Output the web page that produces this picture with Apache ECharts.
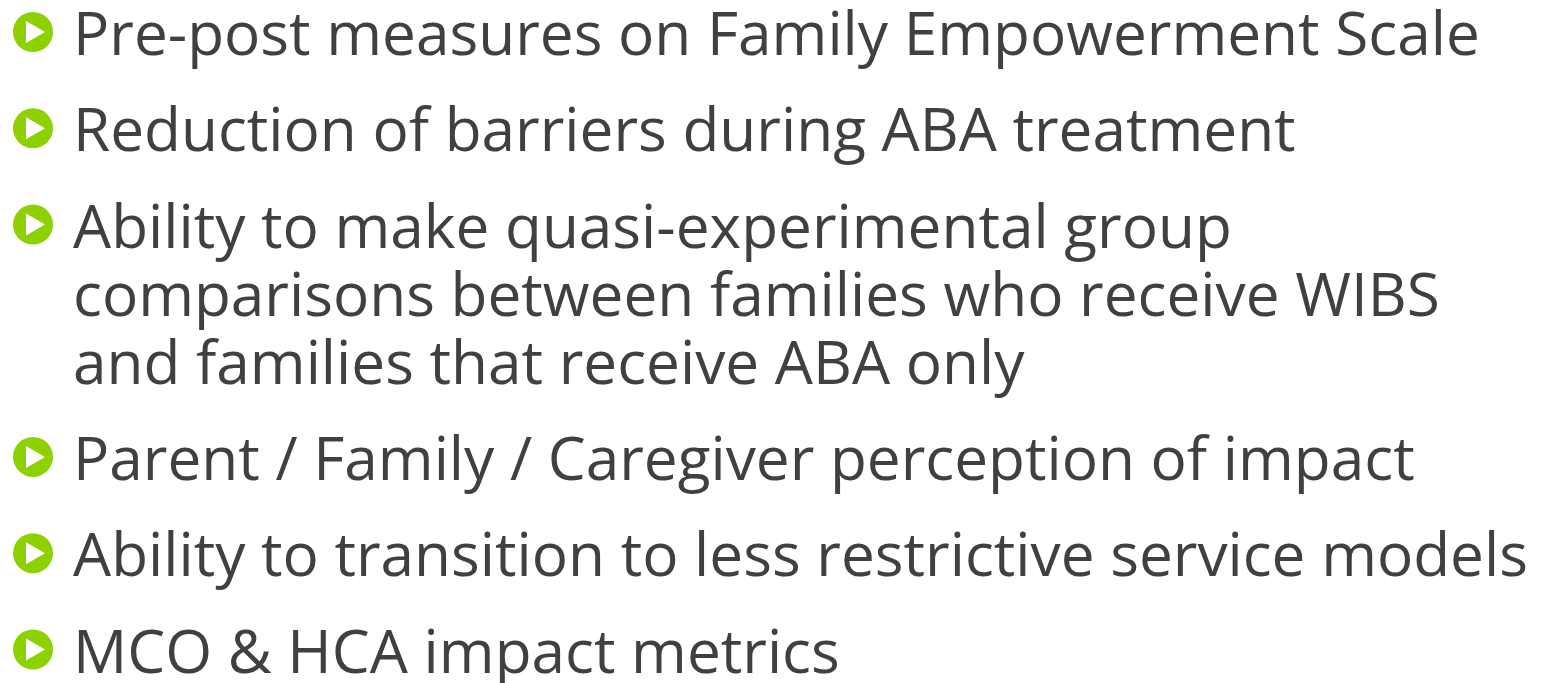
<!DOCTYPE html>
<html>
<head>
<meta charset="utf-8">
<script src="https://cdn.jsdelivr.net/npm/echarts@6/dist/echarts.min.js"></script>
<style>
html,body{margin:0;padding:0;background:#fff;}
#main{width:1546px;height:683px;}
</style>
</head>
<body>
<div id="main"></div>
<script>
// Bullet items (each inner array = wrapped lines of one bullet)
const bulletItems = [
  ["Pre-post measures on Family Empowerment Scale"],
  ["Reduction of barriers during ABA treatment"],
  ["Ability to make quasi-experimental group",
   "comparisons between families who receive WIBS",
   "and families that receive ABA only"],
  ["Parent / Family / Caregiver perception of impact"],
  ["Ability to transition to less restrictive service models"],
  ["MCO & HCA impact metrics"]
];

// layout / style constants
const FONT = '"Open Sans", "Noto Sans", sans-serif';
const FONT_SIZE = 60.3;
const TEXT_X = 73;
const BASE0 = 55;
const ITEM_GAP = 96.3;
const LINE_GAP = 68;
const TEXT_SHIFT = 13;
const BULLET_X = 33;
const BULLET_R = 20;
const GREEN = '#8ED100';
const TEXT_COLOR = '#404040';

const chart = echarts.init(document.getElementById('main'), null, {renderer:'canvas'});
const elements = [];
let lineCount = 0;
bulletItems.forEach((lines, i) => {
  const base = BASE0 + i * ITEM_GAP + lineCount * LINE_GAP;
  const cy = base - 23;
  elements.push({
    type: 'circle', shape: {cx: BULLET_X, cy: cy, r: BULLET_R},
    style: {fill: GREEN}
  });
  elements.push({
    type: 'polygon',
    shape: {points: [[BULLET_X - 7, cy - 11], [BULLET_X + 12, cy], [BULLET_X - 7, cy + 11]]},
    style: {fill: '#fff'}
  });
  lines.forEach((t, j) => {
    elements.push({
      type: 'text', x: TEXT_X, y: base + j * LINE_GAP + TEXT_SHIFT,
      style: {text: t, font: FONT_SIZE + 'px ' + FONT, fill: TEXT_COLOR,
               textAlign: 'left', textVerticalAlign: 'bottom'}
    });
  });
  lineCount += lines.length - 1;
});
chart.setOption({animation: false, backgroundColor: '#fff', graphic: {elements}});
</script>
</body>
</html>
